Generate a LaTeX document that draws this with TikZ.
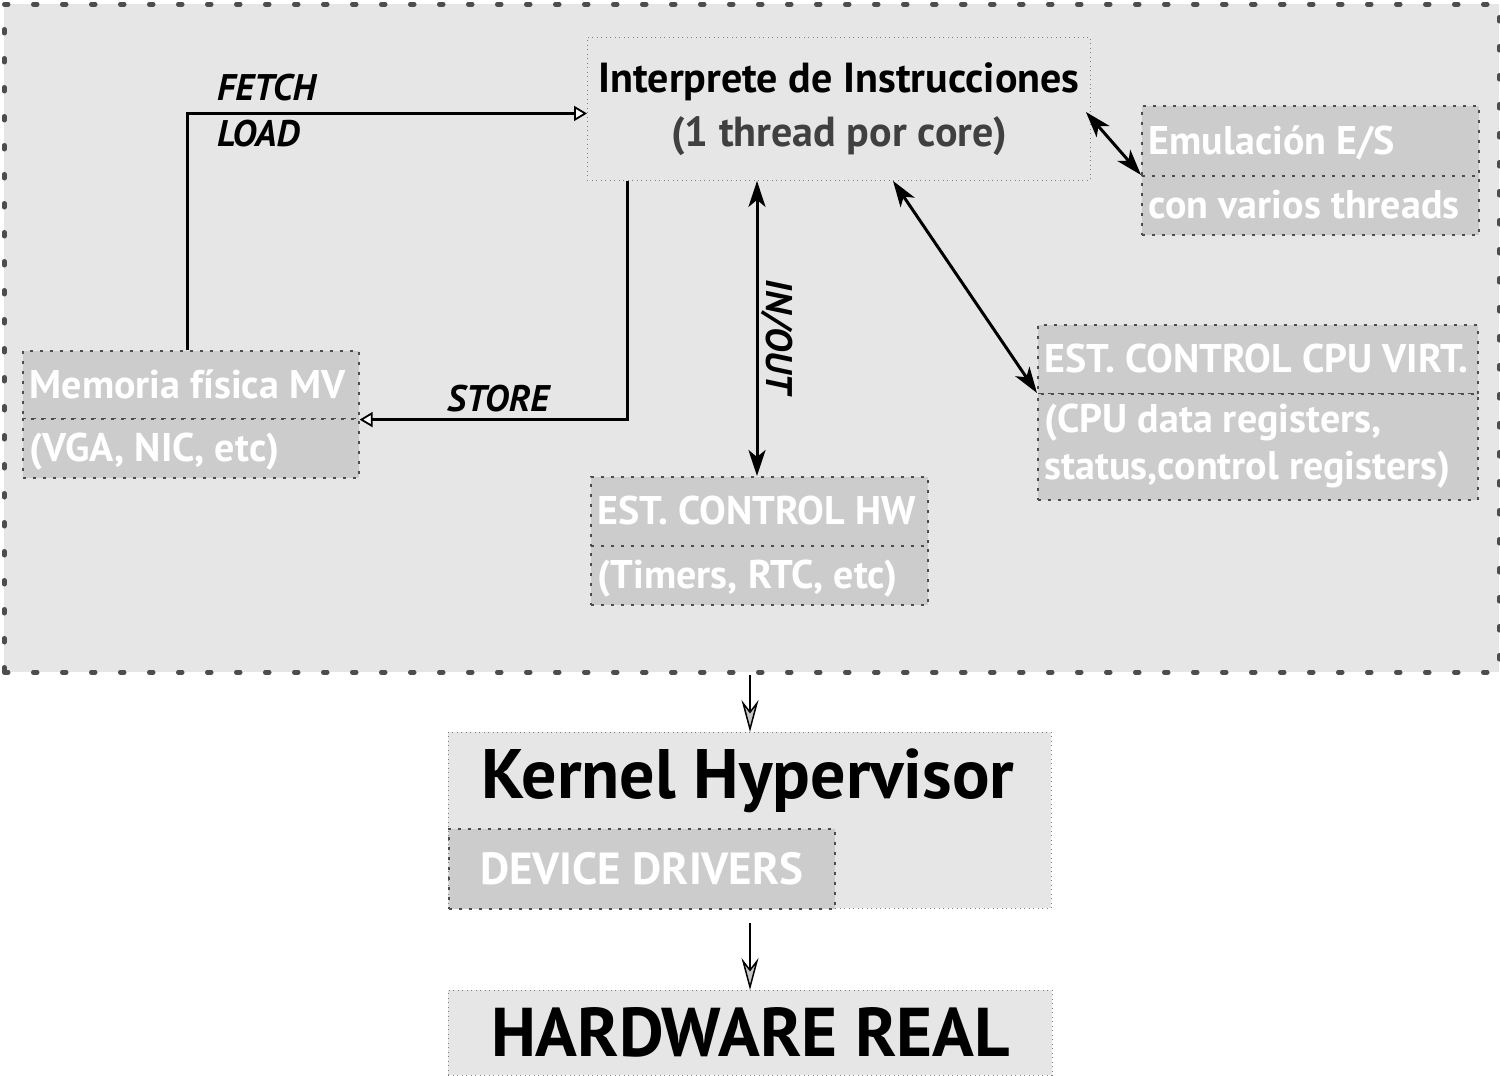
\documentclass[tikz,border=0pt]{standalone}
\usepackage{fontspec}
\setmainfont{PT Sans}
\usetikzlibrary{arrows.meta}
\frenchspacing

\definecolor{bgfill}{HTML}{E6E6E6}
\definecolor{boxfill}{HTML}{CCCCCC}
\definecolor{edge}{HTML}{4D4D4D}
\definecolor{subtext}{HTML}{404040}

% left-aligned row of fixed width inside a box
\newcommand\boxrow[2]{\makebox[#1][l]{#2}}

\tikzset{
  frame/.style={draw=edge, fill=bgfill, line width=4.5pt, line cap=round,
    dash pattern=on 4pt off 25pt},
  hollow/.style={draw=gray, line width=0.9pt, dash pattern=on 1pt off 3.5pt,
    anchor=north west, inner sep=0pt},
  gbox/.style={draw=edge, fill=boxfill, line width=1.6pt,
    dash pattern=on 3pt off 7pt, text=white, anchor=north west,
    font=\fontsize{40}{47}\selectfont\bfseries, inner xsep=7pt, inner ysep=0pt},
  oneline/.style={text height=27pt, text depth=0pt},
  flow/.style={line width=3pt, -{Triangle[length=13pt, width=15pt, fill=white, line width=1.8pt]}},
  both/.style={line width=3pt, {Stealth[length=26pt, width=17pt, inset=7pt]}-{Stealth[length=26pt, width=17pt, inset=7pt]}},
  down/.style={line width=1.5pt, -{Stealth[length=32pt, width=17pt, inset=11pt, fill=gray!45]}},
  tag/.style={font=\fontsize{37}{40}\selectfont\bfseries\itshape, inner sep=0pt},
  big/.style={font=\fontsize{69}{75}\selectfont\bfseries, text height=47pt, text depth=0pt},
}

\begin{document}
\begin{tikzpicture}[x=1pt, y=-1pt]
  \useasboundingbox (0,0) rectangle (1500,1076);

  % virtual machine area
  \node[frame, anchor=north west, minimum width=1495pt, minimum height=668pt, inner sep=0pt]
    (vm) at (2,2) {};

  % instruction interpreter
  \node[hollow, minimum width=503pt, minimum height=143pt, align=center,
        font=\fontsize{42}{54}\selectfont\bfseries] (interp) at (587,37)
    {Interprete de Instrucciones\\{\color{subtext}(1 thread por core)}};

  % I/O emulation
  \node[gbox, oneline, minimum height=70pt] (emuA) at (1141,105) {\boxrow{323pt}{Emulación E/S}};
  \node[gbox, oneline, minimum height=59pt] (emuB) at (1141,175) {\boxrow{323pt}{con varios threads}};

  % guest physical memory
  \node[gbox, oneline, minimum height=68pt] (memA) at (22,350) {\boxrow{322pt}{Memoria física MV}};
  \node[gbox, oneline, minimum height=59pt] (memB) at (22,418) {\boxrow{322pt}{(VGA, NIC, etc)}};

  % hardware control structures
  \node[gbox, oneline, minimum height=69pt] (hwA) at (590,476) {\boxrow{323pt}{EST. CONTROL HW}};
  \node[gbox, oneline, minimum height=59pt] (hwB) at (590,545) {\boxrow{323pt}{(Timers, RTC, etc)}};

  % virtual CPU control structures
  \node[gbox, oneline, minimum height=69pt] (cpuA) at (1037,324) {\boxrow{426pt}{EST. CONTROL CPU VIRT.}};
  \node[gbox, minimum height=106pt] (cpuB) at (1037,393)
    {\boxrow{426pt}{\begin{tabular}{@{}l@{}}(CPU data registers,\\status,control registers)\end{tabular}}};

  % hypervisor kernel
  \node[hollow, fill=bgfill, minimum width=603pt, minimum height=176pt] (kernel) at (448,732) {};
  \node[big, font=\fontsize{70}{76}\selectfont\bfseries, inner sep=0pt] (kerneltitle) at (748,775) {Kernel Hypervisor};
  \node[gbox, font=\fontsize{45}{50}\selectfont\bfseries, text height=31pt, text depth=0pt,
        minimum width=386pt, minimum height=80pt, align=center]
    (drivers) at (448,828) {DEVICE DRIVERS};

  % physical hardware
  \node[hollow, big, fill=bgfill, minimum width=604pt, minimum height=85pt]
    (hwreal) at (448,990) {HARDWARE REAL};

  % connectors
  \draw[flow] (187,0 |- memA.north) |- ([yshift=-4.5pt]interp.west);
  \draw[flow] (627,0 |- interp.south) |- (memA.south east);
  \draw[both] (757,0 |- interp.south) -- (757,0 |- hwA.north);
  \draw[both] (893,0 |- interp.south) -- (cpuB.north west);
  \draw[both] ([xshift=-5pt, yshift=-3pt]interp.east) -- (emuB.north west);
  \draw[down] (750,0 |- vm.south) -- (750,0 |- kernel.north);
  \draw[down] ([yshift=-14pt]750,0 |- kernel.south) -- (750,0 |- hwreal.north);

  % connector labels
  \node[tag, anchor=base west] (fetch) at (217,100) {FETCH};
  \node[tag, anchor=base west] (load) at (217,146) {LOAD};
  \node[tag, anchor=base west] (store) at (447,411) {STORE};
  \node[tag, rotate=-90] (inout) at (777,337) {IN/OUT};
\end{tikzpicture}
\end{document}
